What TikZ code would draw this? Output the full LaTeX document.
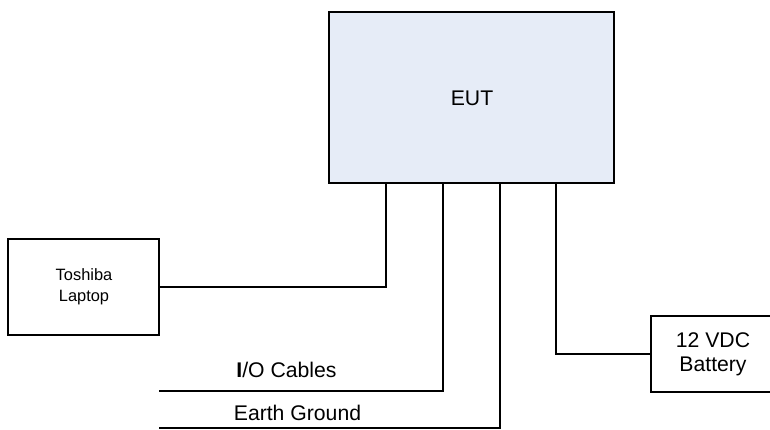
\documentclass[tikz,border=0pt]{standalone}
\usepackage{fontspec}
\setmainfont{Liberation Sans}
\begin{document}
\begin{tikzpicture}[x=1pt,y=-1pt,
  box/.style={draw=black,line width=1.4pt},
  wire/.style={draw=black,line width=1.4pt},
  lbl/.style={font=\fontsize{21.2}{25}\selectfont,inner sep=0pt},
  smalllbl/.style={font=\fontsize{16.4}{20}\selectfont,inner sep=0pt,align=center}]
\useasboundingbox (0,0) rectangle (770,429);
% EUT
\node[box,fill={rgb,255:red,230;green,236;blue,247},minimum width=285pt,minimum height=171pt,inner sep=0pt] (eut) at (471.5,97.5) {};
\node[lbl,anchor=base] (euttxt) at (472,105) {EUT};
% Laptop
\node[box,minimum width=151pt,minimum height=96pt,inner sep=0pt] (lap) at (83.5,287) {};
\node[smalllbl] (laptxt) at (84,287) {Toshiba\\[1pt]Laptop};
% Battery
\node[box,minimum width=126pt,minimum height=76pt,inner sep=0pt] (bat) at (714,354) {};
\node[lbl,align=center] (battxt) at (713,354) {12 VDC\\[-1pt]Battery};
% wire anchors
\coordinate (l1) at (386,183);
\coordinate (l2) at (443,183);
\coordinate (l3) at (500,183);
\coordinate (l4) at (556,183);
\coordinate (io) at (159,391);
\coordinate (eg) at (159,428);
\draw[wire] (l1) |- (lap.east);
\draw[wire] (l2) |- (io);
\draw[wire] (l3) |- (eg);
\draw[wire] (l4) |- (bat.west);
\node[lbl,anchor=base] (iotxt) at (286.5,377) {\textbf{I}/O Cables};
\node[lbl,anchor=base] (egtxt) at (297.5,420) {Earth Ground};
\end{tikzpicture}
\end{document}
